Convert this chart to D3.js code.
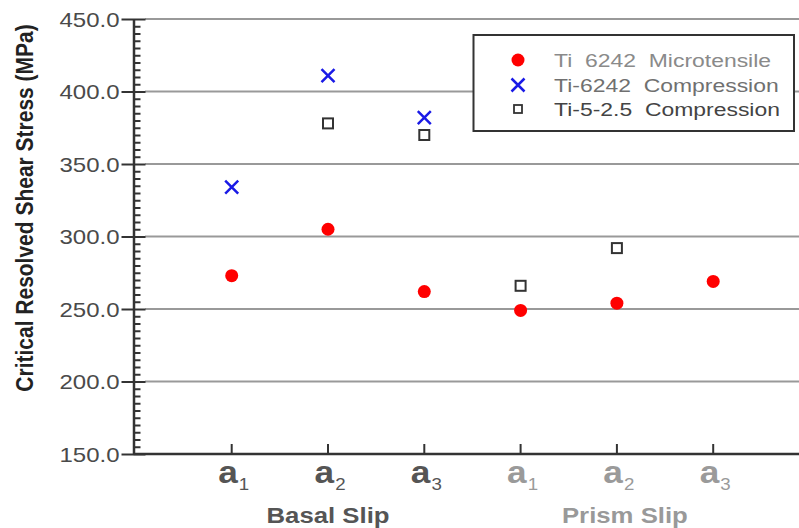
<!DOCTYPE html>
<html><head><meta charset="utf-8">
<script src="https://cdn.jsdelivr.net/npm/d3@7"></script>
<style>
html,body{margin:0;padding:0;background:#fff;}
svg{display:block;}
text{font-family:"Liberation Sans",Arial,sans-serif;}
</style></head>
<body><svg id="c" width="799" height="528"></svg>
<script>
// ---- data ----
const categories = ["a1","a2","a3","a1","a2","a3"];
const subscripts = ["1","2","3","1","2","3"];
const groups = ["Basal Slip","Prism Slip"];
const microtensile = [273, 305, 262, 249, 254, 269];        // Ti 6242 Microtensile
const compression6242 = [334, 411, 382, null, null, null]; // Ti-6242 Compression
const compression525 = [null, 378, 370, 266, 292, null];   // Ti-5-2.5 Compression
const yTicks = [150, 200, 250, 300, 350, 400, 450];
const legendLabels = ["Ti  6242  Microtensile", "Ti-6242  Compression", "Ti-5-2.5  Compression"];

const svg = d3.select("#c");
const W = 799, H = 528;
svg.append("rect").attr("width", W).attr("height", H).attr("fill", "#fff");

const y = d3.scaleLinear().domain([150, 450]).range([454, 19]);
const x = d3.scaleLinear().domain([0, 5]).range([231.7, 713.2]);
const axisX = 133.5;
const SX = 1.2; // horizontal stretch of the original picture

// gridlines
svg.append("g").selectAll("line").data(yTicks.filter(d => d > 150)).join("line")
  .attr("x1", 145).attr("x2", W).attr("y1", d => y(d)).attr("y2", d => y(d))
  .attr("stroke", "#999").attr("stroke-width", 2);

// y axis with d3 axis (minor ticks inside)
const minor = d3.range(155, 450, 5).filter(v => v % 50 !== 0);
const gMinor = svg.append("g").attr("transform", `translate(${axisX},0)`)
  .call(d3.axisRight(y).tickValues(minor).tickSize(7).tickFormat(""));
gMinor.select(".domain").remove();
gMinor.selectAll(".tick line").attr("stroke", "#333").attr("stroke-width", 2);

const gMajor = svg.append("g").attr("transform", `translate(${axisX},0)`)
  .call(d3.axisLeft(y).tickValues(yTicks).tickSize(0).tickFormat(""));
gMajor.select(".domain").attr("stroke", "#333").attr("stroke-width", 2.5);
gMajor.selectAll(".tick").append("line")
  .attr("x1", -12).attr("x2", 12).attr("stroke", "#333").attr("stroke-width", 2);
gMajor.selectAll(".tick").append("text")
  .attr("transform", `translate(-14,0) scale(${SX},1)`)
  .attr("text-anchor", "end").attr("dy", "0.36em")
  .attr("font-size", 20).attr("fill", "#4a4a4a")
  .text(d => d3.format(".1f")(d));

// x axis
svg.append("line").attr("x1", axisX).attr("x2", W).attr("y1", y(150)).attr("y2", y(150))
  .attr("stroke", "#333").attr("stroke-width", 2.5);
svg.append("g").selectAll("line").data(categories).join("line")
  .attr("x1", (d, i) => x(i)).attr("x2", (d, i) => x(i))
  .attr("y1", y(150)).attr("y2", y(150) - 10)
  .attr("stroke", "#333").attr("stroke-width", 2);

// x tick labels
const xl = svg.append("g").selectAll("text").data(categories).join("text")
  .attr("transform", (d, i) => `translate(${x(i) + 2},483) scale(1.1,1)`)
  .attr("text-anchor", "middle")
  .attr("fill", (d, i) => i < 3 ? "#555" : "#9a9a9a");
xl.append("tspan").attr("font-size", 32).attr("font-weight", "bold").text("a");
xl.append("tspan").attr("font-size", 17).attr("dx", 1).attr("dy", 7).text((d, i) => subscripts[i]);

// group labels
svg.append("g").selectAll("text").data(groups).join("text")
  .attr("transform", (d, i) => `translate(${(x(i * 3) + x(i * 3 + 2)) / 2 + (i ? 8 : 0)},523) scale(1.12,1)`)
  .attr("text-anchor", "middle").attr("font-size", 23).attr("font-weight", "bold")
  .attr("fill", (d, i) => i ? "#999" : "#555")
  .text(d => d);

// y title
svg.append("text")
  .attr("transform", `translate(33,208) rotate(-90) scale(1,1.15)`)
  .attr("text-anchor", "middle").attr("font-size", 21).attr("font-weight", "bold")
  .attr("fill", "#222")
  .text("Critical Resolved Shear Stress (MPa)");

// markers
const xPath = s => `M${-s},${-s}L${s},${s}M${-s},${s}L${s},${-s}`;
svg.append("g").selectAll("circle")
  .data(microtensile.map((v, i) => [i, v]).filter(d => d[1] != null)).join("circle")
  .attr("cx", d => x(d[0])).attr("cy", d => y(d[1])).attr("r", 6.5).attr("fill", "#ff0000");
svg.append("g").selectAll("path")
  .data(compression6242.map((v, i) => [i, v]).filter(d => d[1] != null)).join("path")
  .attr("transform", d => `translate(${x(d[0])},${y(d[1])})`)
  .attr("d", xPath(6.5)).attr("stroke", "#1a1ae6").attr("stroke-width", 2.5).attr("fill", "none");
svg.append("g").selectAll("rect")
  .data(compression525.map((v, i) => [i, v]).filter(d => d[1] != null)).join("rect")
  .attr("x", d => x(d[0]) - 5).attr("y", d => y(d[1]) - 5).attr("width", 10).attr("height", 10)
  .attr("fill", "#fff").attr("stroke", "#333").attr("stroke-width", 2);

// legend
const lg = svg.append("g");
lg.append("rect").attr("x", 473.5).attr("y", 35).attr("width", 320.5).attr("height", 96)
  .attr("fill", "#fff").attr("stroke", "#333").attr("stroke-width", 2);
const rowsY = [60, 85, 109];
const lgColors = ["#8a8a8a", "#707070", "#444"];
lg.append("circle").attr("cx", 518).attr("cy", rowsY[0]).attr("r", 6.5).attr("fill", "#ff0000");
lg.append("path").attr("transform", `translate(518,${rowsY[1]})`).attr("d", xPath(6.5))
  .attr("stroke", "#1a1ae6").attr("stroke-width", 2.5).attr("fill", "none");
lg.append("rect").attr("x", 514).attr("y", rowsY[2] - 4).attr("width", 8).attr("height", 8)
  .attr("fill", "#fff").attr("stroke", "#333").attr("stroke-width", 1.8);
lg.selectAll("text.l").data(legendLabels).join("text")
  .attr("class", "l")
  .attr("transform", (d, i) => `translate(554,${rowsY[i]}) scale(1.24,1)`)
  .attr("dy", "0.36em").attr("font-size", 18.5).attr("fill", (d, i) => lgColors[i])
  .style("white-space", "pre")
  .text(d => d);
</script></body></html>
